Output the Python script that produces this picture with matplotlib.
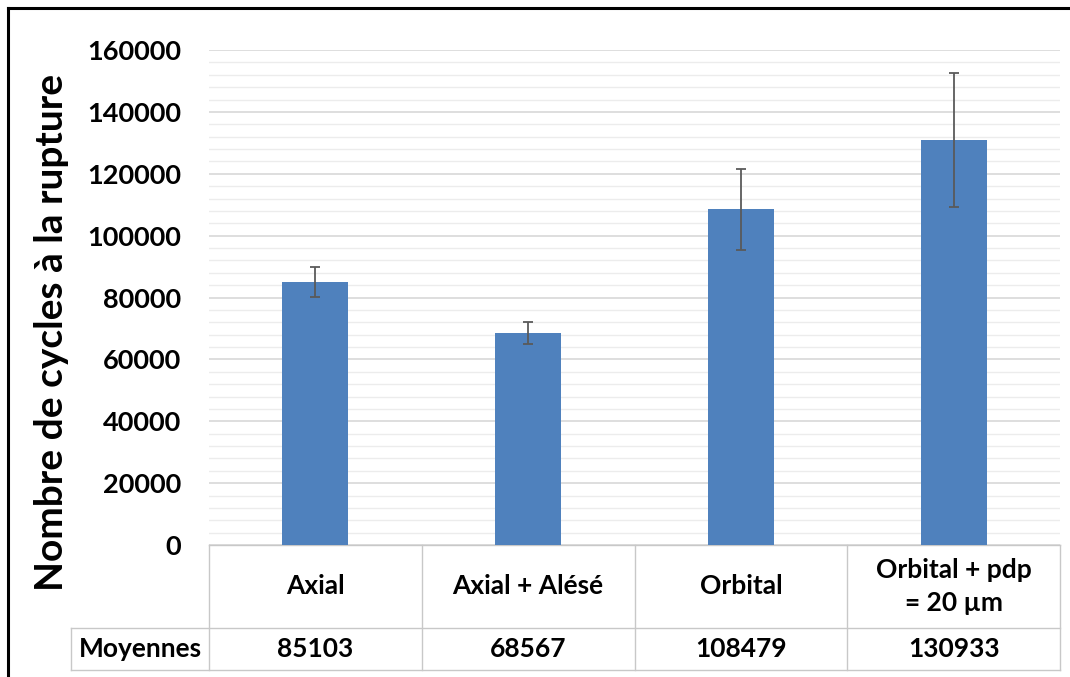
import matplotlib.pyplot as plt
from matplotlib.ticker import MultipleLocator
import matplotlib.transforms as mtransforms

categories = ["Axial", "Axial + Alésé", "Orbital", "Orbital + pdp\n= 20 µm"]
means = [85103, 68567, 108479, 130933]
errors = [4800, 3600, 13000, 21700]
mean_labels = ["85103", "68567", "108479", "130933"]

plt.rcParams["font.family"] = ["Lato", "DejaVu Sans"]
plt.rcParams["font.weight"] = "bold"

W, H = 1070, 677
fig = plt.figure(figsize=(W / 100, H / 100), dpi=100)
# plot area in pixels: x 209..1060, y 50..545
ax = fig.add_axes([209 / W, 1 - 545 / H, (1060 - 209) / W, (545 - 50) / H])

x = list(range(len(categories)))
ax.bar(x, means, width=0.31, color="#4F81BD", zorder=3,
       yerr=errors, error_kw=dict(ecolor="#5a5a5a", elinewidth=1.3, capsize=3.5, capthick=1.3, zorder=4))

ax.set_xlim(-0.5, len(categories) - 0.5)
ax.set_ylim(0, 160000)
ax.yaxis.set_major_locator(MultipleLocator(20000))
ax.yaxis.set_minor_locator(MultipleLocator(4000))
ax.grid(which="major", axis="y", color="#d4d4d4", linewidth=1.1, zorder=0)
ax.grid(which="minor", axis="y", color="#ececec", linewidth=1.0, zorder=0)
ax.set_xticks([])
ax.tick_params(axis="y", which="both", length=0, pad=20, labelsize=19.5)
for s in ax.spines.values():
    s.set_visible(False)

# data table below the plot (x in data units, y in axes fraction)
tr = mtransforms.blended_transform_factory(ax.transData, ax.transAxes)
lc = "#c8c8c8"
r1, r2 = (545 - 628) / 495, (545 - 670) / 495
left = -0.5 - (209 - 71) / 212.75
n = len(categories)
fs = 19
ax.plot([-0.5, n - 0.5], [0, 0], color=lc, lw=1, transform=tr, clip_on=False)
ax.plot([left, n - 0.5], [r1, r1], color=lc, lw=1, transform=tr, clip_on=False)
ax.plot([left, n - 0.5], [r2, r2], color=lc, lw=1, transform=tr, clip_on=False)
ax.plot([left, left], [r1, r2], color=lc, lw=1, transform=tr, clip_on=False)
for i in range(n + 1):
    ax.plot([i - 0.5, i - 0.5], [0, r2], color=lc, lw=1, transform=tr, clip_on=False)
for i, (c, m) in enumerate(zip(categories, mean_labels)):
    ax.text(i, r1 / 2, c, transform=tr, ha="center", va="center", fontsize=fs,
            fontweight="bold", linespacing=1.45)
    ax.text(i, (r1 + r2) / 2, m, transform=tr, ha="center", va="center", fontsize=fs,
            fontweight="bold")
ax.text((left - 0.5) / 2, (r1 + r2) / 2, "Moyennes", transform=tr, ha="center",
        va="center", fontsize=fs, fontweight="bold")

fig.text(52 / W, 1 - 332 / H, "Nombre de cycles à la rupture", rotation=90,
         ha="center", va="center", fontsize=28, fontweight="bold")

# outer frame (left and top edges visible)
fig.add_artist(plt.Line2D([8 / W, 8 / W], [0, 1 - 8 / H], color="black", lw=2.2))
fig.add_artist(plt.Line2D([8 / W, 1], [1 - 8 / H, 1 - 8 / H], color="black", lw=2.2))

fig.savefig("out.png", dpi=100)
